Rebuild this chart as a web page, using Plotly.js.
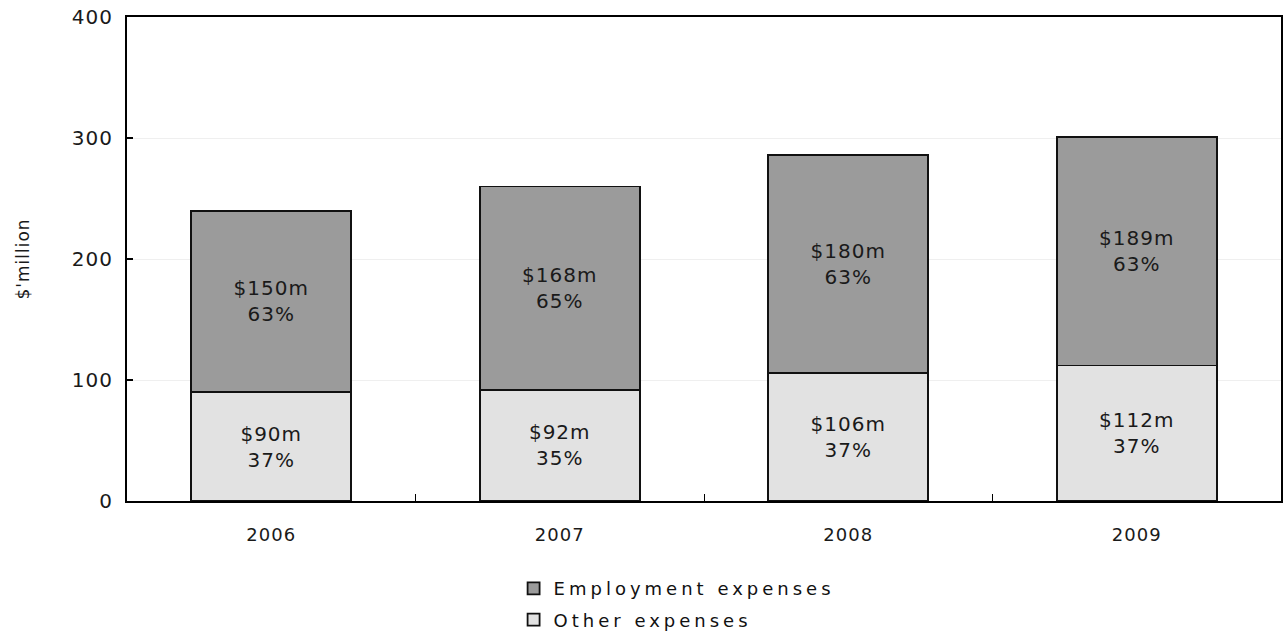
<!DOCTYPE html>
<html><head><meta charset="utf-8">
<script src="https://cdn.plot.ly/plotly-3.0.1.min.js"></script>
<style>
html,body{margin:0;padding:0;background:#fff;}
#chart{width:1284px;height:637px;}
text{letter-spacing:1px;}
text.legendtext{letter-spacing:4px;}
</style>
</head><body><div id="chart"></div>
<script>
const years = ['2006', '2007', '2008', '2009'];
const otherExpenses = [90, 92, 106, 112];
const otherPct = ['37%', '35%', '37%', '37%'];
const employmentExpenses = [150, 168, 180, 189];
const employmentPct = ['63%', '65%', '63%', '63%'];
const yTicks = [0, 100, 200, 300, 400];

const fontFam = '"DejaVu Sans", Verdana, sans-serif';
const lbl = (vals, pct) => vals.map((v, i) => '$' + v + 'm<br>' + pct[i]);

const traces = [
  {
    type: 'bar', name: 'Other expenses', x: years, y: otherExpenses,
    legendgroup: 'o', legendrank: 2,
    text: lbl(otherExpenses, otherPct), textposition: 'inside', insidetextanchor: 'middle',
    textfont: {family: fontFam, size: 20, color: '#1a1a1a'},
    marker: {color: '#e2e2e2', line: {color: '#111', width: 1.8}},
    hoverinfo: 'none'
  },
  {
    type: 'bar', name: 'Employment expenses', x: years, y: employmentExpenses,
    legendgroup: 'e', legendrank: 1,
    text: lbl(employmentExpenses, employmentPct), textposition: 'inside', insidetextanchor: 'middle',
    textfont: {family: fontFam, size: 20, color: '#1a1a1a'},
    marker: {color: '#9b9b9b', line: {color: '#111', width: 1.8}},
    hoverinfo: 'none'
  }
];

const layout = {
  width: 1284, height: 637,
  margin: {l: 127, r: 3, t: 17, b: 136, autoexpand: false},
  barmode: 'stack', bargap: 0.445,
  paper_bgcolor: '#fff', plot_bgcolor: '#fff',
  font: {family: fontFam, size: 18, color: '#1a1a1a'},
  uniformtext: {mode: 'show', minsize: 20},
  xaxis: {
    type: 'category', showline: true, linecolor: '#000', linewidth: 2, mirror: true,
    ticks: 'inside', tickson: 'boundaries', ticklen: 7, tickcolor: '#000', tickwidth: 1,
    showgrid: false, tickfont: {size: 18}, ticklabelstandoff: 16
  },
  yaxis: {
    range: [0, 400], tickvals: yTicks, ticktext: yTicks.map(String),
    showline: true, linecolor: '#000', linewidth: 2, mirror: true,
    ticks: 'inside', ticklen: 6, tickcolor: '#000', tickwidth: 2,
    showgrid: true, gridcolor: '#efefef', gridwidth: 1, zeroline: false,
    tickfont: {size: 20}, ticklabelstandoff: 8,
    title: {text: "$'million", font: {size: 17}, standoff: 38}
  },
  showlegend: true,
  legend: {
    x: 0.335, xanchor: 'left', yref: 'container', y: 0.105, yanchor: 'top',
    orientation: 'v', font: {size: 18, color: '#111'},
    traceorder: 'grouped', tracegroupgap: 5
  }
};

Plotly.newPlot('chart', traces, layout, {staticPlot: true});
</script>
</body></html>
